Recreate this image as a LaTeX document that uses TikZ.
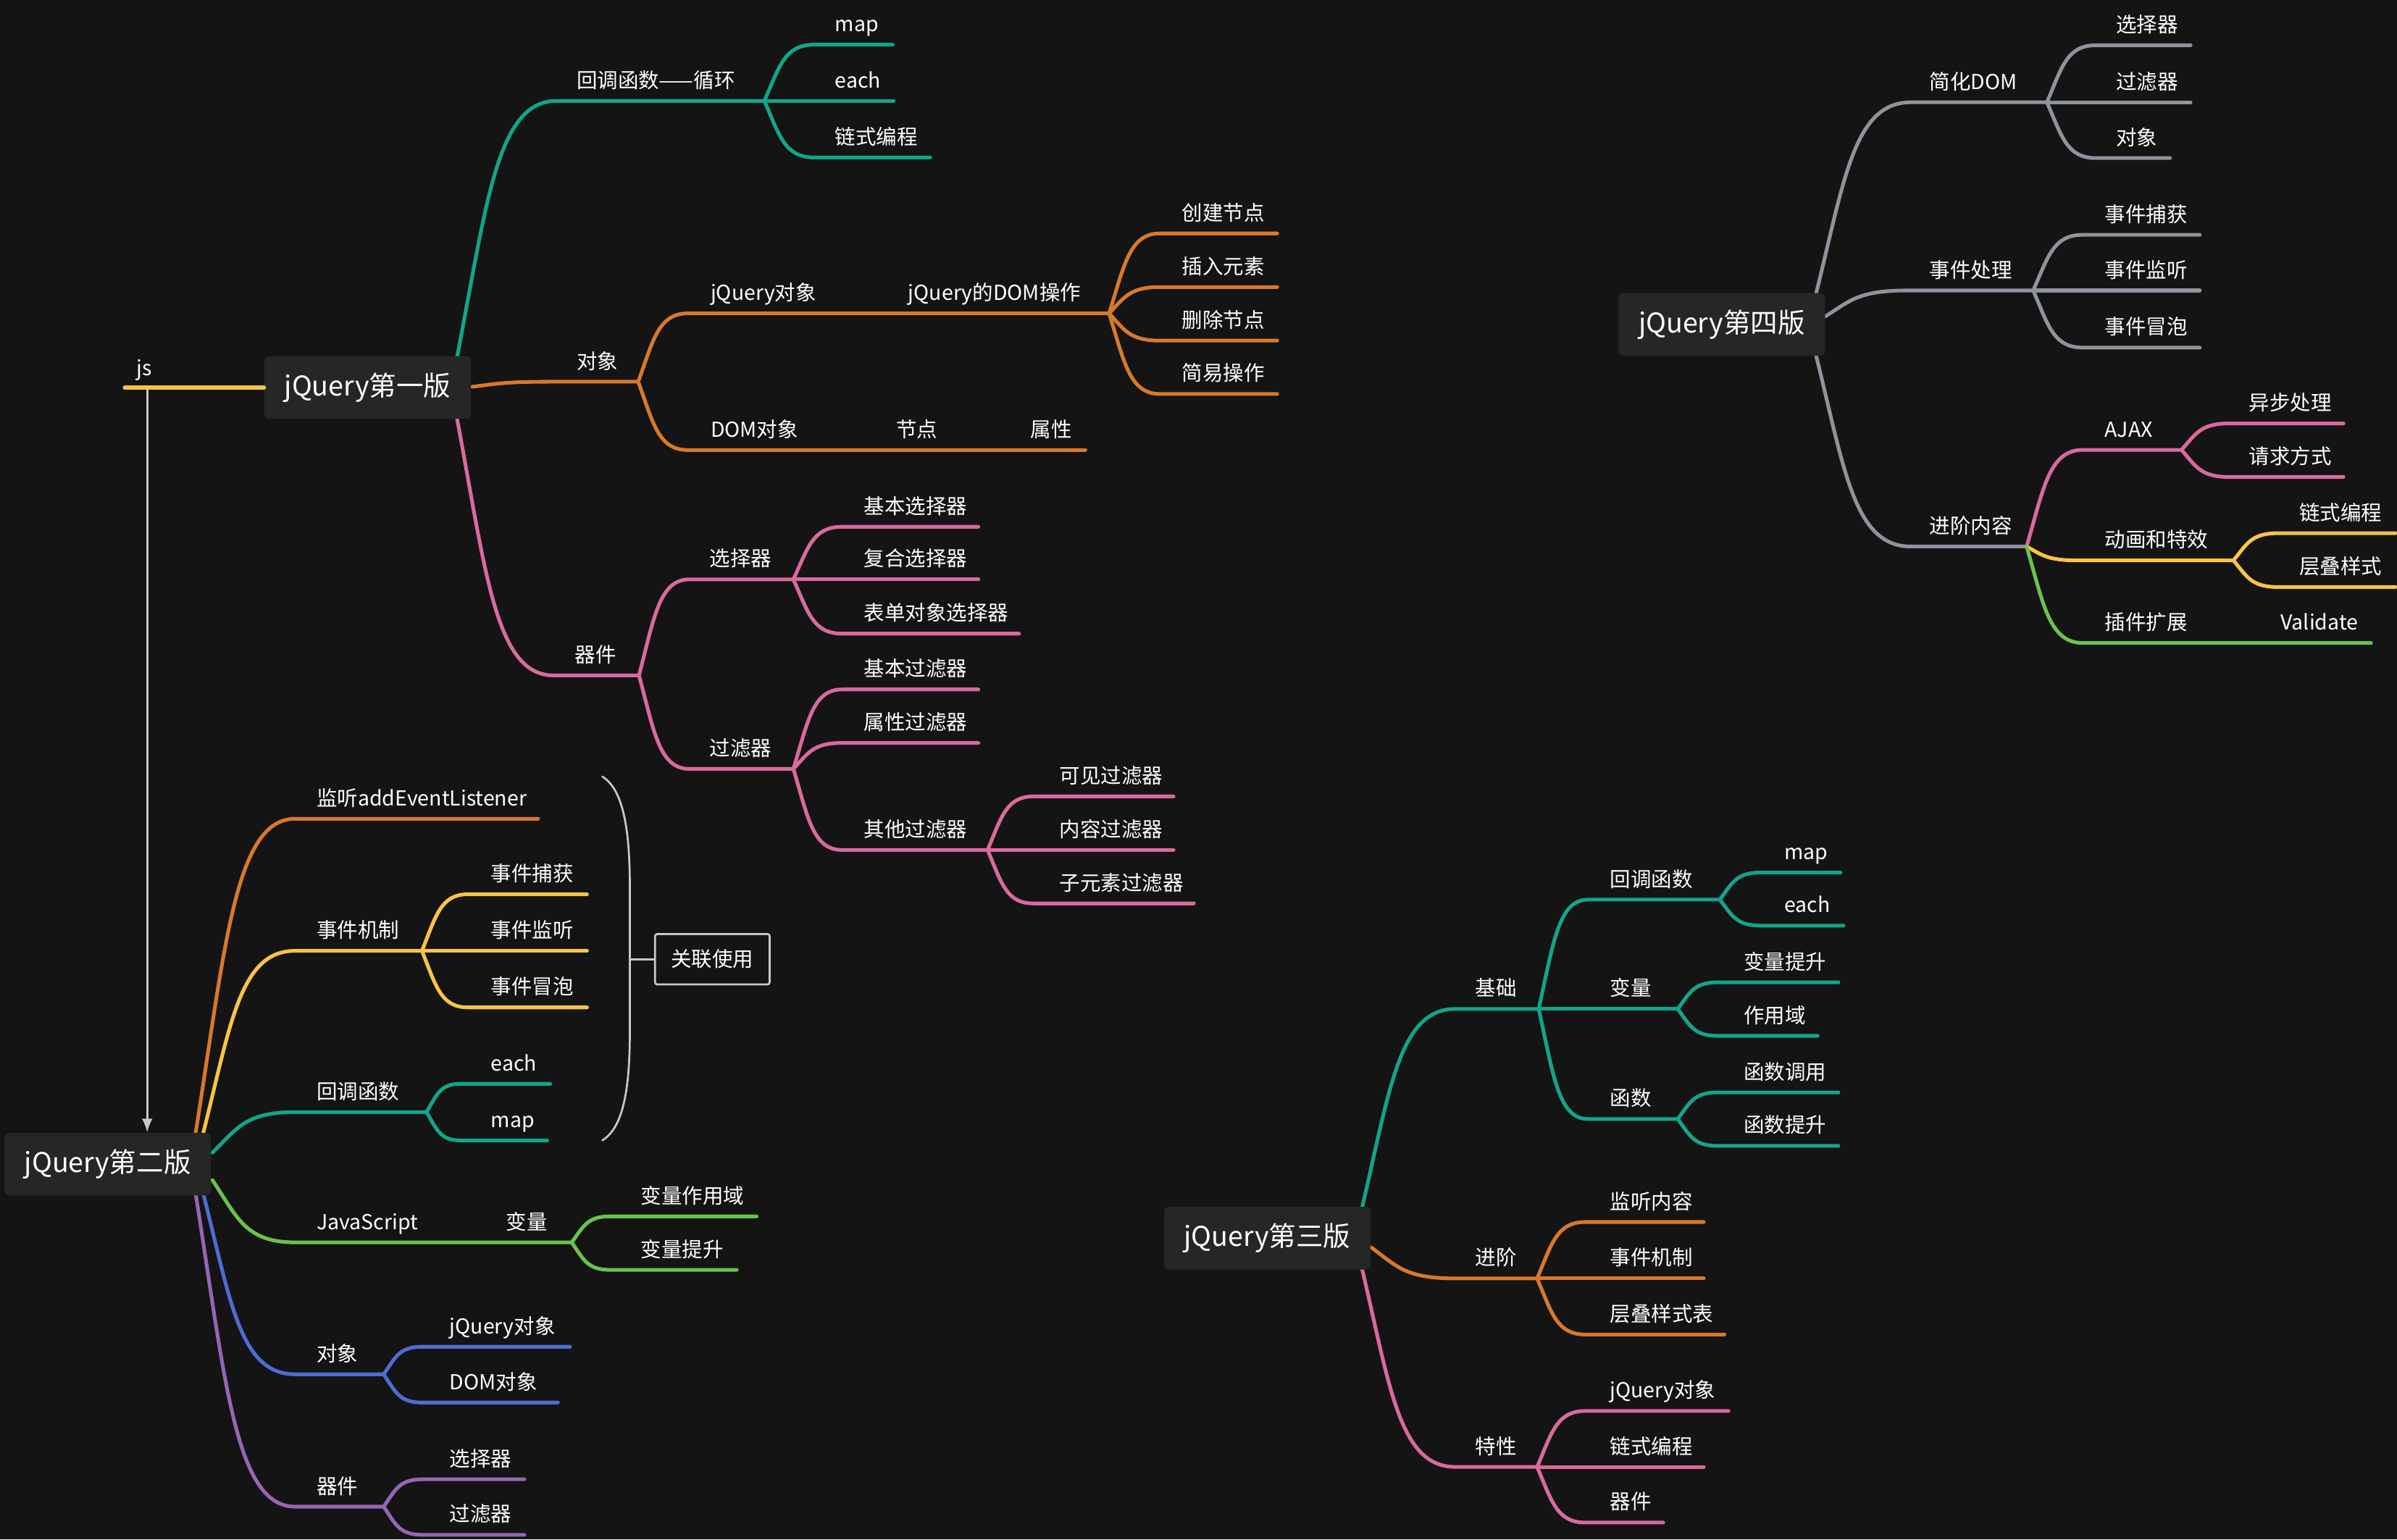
\documentclass[tikz,border=0pt]{standalone}
\usepackage{fontspec}
\newfontfamily\cjk{Noto Sans CJK SC}
\usetikzlibrary{calc,arrows.meta}
\definecolor{bg}{HTML}{141414}
\definecolor{cteal}{HTML}{12A58A}
\definecolor{corange}{HTML}{D8792A}
\definecolor{cpink}{HTML}{D96A9D}
\definecolor{cyellow}{HTML}{F8C445}
\definecolor{cgreen}{HTML}{6BC24B}
\definecolor{cblue}{HTML}{4E6CD2}
\definecolor{cpurple}{HTML}{9466B4}
\definecolor{cgray}{HTML}{8E949C}
\definecolor{clight}{HTML}{C8C8C8}
\definecolor{boxfill}{HTML}{262626}
\newcommand\mbr[6]{\coordinate (#3s) at (#4,#5);\coordinate (#3) at (#6,#5);\draw[ln,#1] (#2) to[mm] (#3s) -- (#3);}
\newcommand\mlb[4]{\node[lbl] (#1) at ({#2},{#3-8.5}) {#4};}
\begin{document}
\begin{tikzpicture}[x=1pt,y=-1pt,
  ln/.style={line width=2.4pt,line cap=round,line join=round},
  mm/.style={to path={let \p1=(\tikztostart),\p2=(\tikztotarget) in .. controls ({\x1+0.3*(\x2-\x1)},{\y1+0.6*(\y2-\y1)}) and ({\x1+0.4*(\x2-\x1)},{\y2}) .. (\tikztotarget)}},
  lbl/.style={anchor=base west,inner sep=0pt,text=white,font=\cjk\fontsize{13.5}{16}\selectfont},
  rootbox/.style={fill=boxfill,rounded corners=3pt,text=white,font=\cjk\fontsize{17.8}{22}\selectfont,minimum width=135pt,minimum height=41pt,inner sep=0pt}]
\fill[bg] (0,0) rectangle (1568,1007);
\useasboundingbox (0,0) rectangle (1568,1007);

% root anchor coordinates
\coordinate (r1a) at (299,233.5);
\coordinate (r1b) at (309,253);
\coordinate (r1c) at (299,274);
\coordinate (r2a) at (128,741);
\coordinate (r2b) at (133,741);
\coordinate (r2c) at (139,754);
\coordinate (r2d) at (139,772);
\coordinate (r2e) at (133,781);
\coordinate (r2f) at (128,781);
\coordinate (r3a) at (891,790);
\coordinate (r3b) at (897,816);
\coordinate (r3c) at (891,830);
\coordinate (r4a) at (1188,192);
\coordinate (r4b) at (1194,207);
\coordinate (r4c) at (1188,232.6);

% ===== Root 1 =====
\mbr{cteal}{r1a}{c1}{364}{66}{500}
\mbr{cteal}{c1}{c1a}{532.6}{29.2}{584}
\mbr{cteal}{c1}{c1b}{532.6}{66}{584.6}
\mbr{cteal}{c1}{c1c}{532.6}{103}{608.5}
\mbr{corange}{r1b}{o1}{362}{249.7}{417.5}
\mbr{corange}{o1}{o1a}{450}{205}{725.5}
\mbr{corange}{o1a}{o1aa}{758.7}{152.7}{835.5}
\mbr{corange}{o1a}{o1ab}{758.7}{187.8}{835.5}
\mbr{corange}{o1a}{o1ac}{758.7}{222.8}{835.5}
\mbr{corange}{o1a}{o1ad}{758.7}{257.7}{835.5}
\mbr{corange}{o1}{o1b}{450}{294.4}{710}
\mbr{cpink}{r1c}{p1}{362}{441.8}{418}
\mbr{cpink}{p1}{p1a}{451}{379}{519}
\mbr{cpink}{p1a}{p1aa}{550.8}{344.6}{640}
\mbr{cpink}{p1a}{p1ab}{550.8}{379}{640}
\mbr{cpink}{p1a}{p1ac}{550.8}{414.5}{666.6}
\mbr{cpink}{p1}{p1b}{451}{503}{519}
\mbr{cpink}{p1b}{p1ba}{550.8}{451}{640}
\mbr{cpink}{p1b}{p1bb}{550.8}{486}{640}
\mbr{cpink}{p1b}{p1bc}{550.8}{556}{646}
\mbr{cpink}{p1bc}{p1bca}{676}{521}{767.7}
\mbr{cpink}{p1bc}{p1bcb}{676}{556}{767.7}
\mbr{cpink}{p1bc}{p1bcc}{676}{591}{781}

% ===== Root 2 =====
\mbr{corange}{r2a}{e1}{193}{535.6}{352}
\mbr{cyellow}{r2b}{e2}{193}{622}{276}
\mbr{cyellow}{e2}{e2a}{306}{585}{384}
\mbr{cyellow}{e2}{e2b}{306}{622}{384}
\mbr{cyellow}{e2}{e2c}{306}{659}{384}
\mbr{cteal}{r2c}{e3}{193}{727.5}{279}
\mbr{cteal}{e3}{e3a}{301}{709}{360}
\mbr{cteal}{e3}{e3b}{301}{746}{358}
\mbr{cgreen}{r2d}{e4}{193}{812.7}{374}
\mbr{cgreen}{e4}{e4a}{399}{795.7}{495}
\mbr{cgreen}{e4}{e4b}{399}{830.7}{482}
\mbr{cblue}{r2e}{e5}{193}{899}{251}
\mbr{cblue}{e5}{e5a}{276}{881}{373}
\mbr{cblue}{e5}{e5b}{276}{917.5}{365}
\mbr{cpurple}{r2f}{e6}{193}{985.6}{251}
\mbr{cpurple}{e6}{e6a}{276}{967.7}{343}
\mbr{cpurple}{e6}{e6b}{276}{1004}{343}

% ===== Root 3 =====
\mbr{cteal}{r3a}{f1}{952}{660}{1006.5}
\mbr{cteal}{f1}{f1a}{1038.7}{588.5}{1125}
\mbr{cteal}{f1a}{f1aa}{1151.5}{570.8}{1204}
\mbr{cteal}{f1a}{f1ab}{1151.5}{605.5}{1206}
\mbr{cteal}{f1}{f1b}{1038.7}{660}{1097.5}
\mbr{cteal}{f1b}{f1ba}{1123.5}{642.6}{1202.6}
\mbr{cteal}{f1b}{f1bb}{1123.5}{677.6}{1189}
\mbr{cteal}{f1}{f1c}{1038.7}{732}{1097.5}
\mbr{cteal}{f1c}{f1ca}{1123.5}{714.6}{1202.6}
\mbr{cteal}{f1c}{f1cb}{1123.5}{749.6}{1202.6}
\mbr{corange}{r3b}{f2}{952}{836.3}{1005.5}
\mbr{corange}{f2}{f2a}{1037}{799.4}{1114.5}
\mbr{corange}{f2}{f2b}{1037}{836.3}{1114.5}
\mbr{corange}{f2}{f2c}{1037}{873}{1128}
\mbr{cpink}{r3c}{f3}{952}{959.6}{1005.5}
\mbr{cpink}{f3}{f3a}{1037}{923}{1130.7}
\mbr{cpink}{f3}{f3b}{1037}{959.6}{1114.5}
\mbr{cpink}{f3}{f3c}{1037}{996}{1088}

% ===== Root 4 =====
\mbr{cgray}{r4a}{g1}{1250}{66.9}{1339}
\mbr{cgray}{g1}{g1a}{1371}{29.6}{1433}
\mbr{cgray}{g1}{g1b}{1371}{66.9}{1433}
\mbr{cgray}{g1}{g1c}{1371}{103.4}{1419.5}
\mbr{cgray}{r4b}{g2}{1248}{190}{1330}
\mbr{cgray}{g2}{g2a}{1362.5}{153.6}{1439}
\mbr{cgray}{g2}{g2b}{1362.5}{190}{1439}
\mbr{cgray}{g2}{g2c}{1362.5}{227.4}{1439}
\mbr{cgray}{r4c}{g3}{1250}{357.5}{1325.7}
\mbr{cpink}{g3}{g3a}{1362.5}{294.3}{1427}
\mbr{cpink}{g3a}{g3aa}{1458}{277}{1533}
\mbr{cpink}{g3a}{g3ab}{1458}{312}{1533}
\mbr{cyellow}{g3}{g3b}{1359}{366.6}{1461}
\mbr{cyellow}{g3b}{g3ba}{1490}{348.8}{1567}
\mbr{cyellow}{g3b}{g3bb}{1490}{384}{1567}
\mbr{cgreen}{g3}{g3c}{1362.5}{420.6}{1551}

% ===== root boxes =====
\node[rootbox] (r1) at (240.5,253.5) {jQuery第一版};
\node[rootbox] (r2) at (70.5,761.5) {jQuery第二版};
\node[rootbox] (r3) at (829,810) {jQuery第三版};
\node[rootbox] (r4) at (1126.3,212.2) {jQuery第四版};

% js and arrow
\coordinate (js) at (81.5,253.5);
\coordinate (jsd) at (96.3,253.5);
\draw[clight,line width=1.3pt,-{Latex[length=9pt,width=7pt]}] (jsd) -- (jsd |- r2.north);
\draw[ln,cyellow] (js) -- (r1.west);
\mlb{tjs}{89}{254}{js}

% brace and relation box
\coordinate (bt) at (394,508);
\coordinate (bb) at (394,746);
\coordinate (bm) at (412,627.5);
\draw[clight,line width=1.3pt,line cap=round] (bt) .. controls (407,516) and (412,540) .. (412,580) -- (412,675) .. controls (412,715) and (407,738) .. (bb);
\node[draw=clight,line width=1.3pt,rounded corners=1.5pt,minimum width=75pt,minimum height=33pt,inner sep=0pt,text=white,font=\cjk\fontsize{13.5}{16}\selectfont] (rel) at (466,627.5) {关联使用};
\draw[clight,line width=1.3pt] (bm) -- (rel.west);

% ===== labels root 1 =====
\mlb{tc1}{377}{66}{回调函数——循环}
\mlb{tc1a}{546}{29.2}{map}
\mlb{tc1b}{546}{66}{each}
\mlb{tc1c}{546}{103}{链式编程}
\mlb{to1}{377}{249.7}{对象}
\mlb{to1a}{464.7}{205}{jQuery对象}
\mlb{to1a2}{594}{205}{jQuery的DOM操作}
\mlb{to1aa}{773}{152.7}{创建节点}
\mlb{to1ab}{773}{187.8}{插入元素}
\mlb{to1ac}{773}{222.8}{删除节点}
\mlb{to1ad}{773}{257.7}{简易操作}
\mlb{to1b}{464.7}{294.4}{DOM对象}
\mlb{to1b2}{586}{294.4}{节点}
\mlb{to1b3}{674}{294.4}{属性}
\mlb{tp1}{376}{441.8}{器件}
\mlb{tp1a}{464}{379}{选择器}
\mlb{tp1aa}{565}{344.6}{基本选择器}
\mlb{tp1ab}{565}{379}{复合选择器}
\mlb{tp1ac}{565}{414.5}{表单对象选择器}
\mlb{tp1b}{464}{503}{过滤器}
\mlb{tp1ba}{565}{451}{基本过滤器}
\mlb{tp1bb}{565}{486}{属性过滤器}
\mlb{tp1bc}{565}{556}{其他过滤器}
\mlb{tp1bca}{693}{521}{可见过滤器}
\mlb{tp1bcb}{693}{556}{内容过滤器}
\mlb{tp1bcc}{693}{591}{子元素过滤器}

% ===== labels root 2 =====
\mlb{te1}{207}{535.6}{监听addEventListener}
\mlb{te2}{207}{622}{事件机制}
\mlb{te2a}{321}{585}{事件捕获}
\mlb{te2b}{321}{622}{事件监听}
\mlb{te2c}{321}{659}{事件冒泡}
\mlb{te3}{207}{727.5}{回调函数}
\mlb{te3a}{321}{709}{each}
\mlb{te3b}{321}{746}{map}
\mlb{te4}{207}{812.7}{JavaScript}
\mlb{te4x}{331}{812.7}{变量}
\mlb{te4a}{419}{795.7}{变量作用域}
\mlb{te4b}{419}{830.7}{变量提升}
\mlb{te5}{207}{899}{对象}
\mlb{te5a}{294}{881}{jQuery对象}
\mlb{te5b}{294}{917.5}{DOM对象}
\mlb{te6}{207}{985.6}{器件}
\mlb{te6a}{294}{967.7}{选择器}
\mlb{te6b}{294}{1004}{过滤器}

% ===== labels root 3 =====
\mlb{tf1}{965}{660}{基础}
\mlb{tf1a}{1053}{588.5}{回调函数}
\mlb{tf1aa}{1167}{570.8}{map}
\mlb{tf1ab}{1167}{605.5}{each}
\mlb{tf1b}{1053}{660}{变量}
\mlb{tf1ba}{1140.6}{642.6}{变量提升}
\mlb{tf1bb}{1140.6}{677.6}{作用域}
\mlb{tf1c}{1053}{732}{函数}
\mlb{tf1ca}{1140.6}{714.6}{函数调用}
\mlb{tf1cb}{1140.6}{749.6}{函数提升}
\mlb{tf2}{965}{836.3}{进阶}
\mlb{tf2a}{1053}{799.4}{监听内容}
\mlb{tf2b}{1053}{836.3}{事件机制}
\mlb{tf2c}{1053}{873}{层叠样式表}
\mlb{tf3}{965}{959.6}{特性}
\mlb{tf3a}{1053}{923}{jQuery对象}
\mlb{tf3b}{1053}{959.6}{链式编程}
\mlb{tf3c}{1053}{996}{器件}

% ===== labels root 4 =====
\mlb{tg1}{1262}{66.9}{简化DOM}
\mlb{tg1a}{1384}{29.6}{选择器}
\mlb{tg1b}{1384}{66.9}{过滤器}
\mlb{tg1c}{1384}{103.4}{对象}
\mlb{tg2}{1262}{190}{事件处理}
\mlb{tg2a}{1376.6}{153.6}{事件捕获}
\mlb{tg2b}{1376.6}{190}{事件监听}
\mlb{tg2c}{1376.6}{227.4}{事件冒泡}
\mlb{tg3}{1262}{357.5}{进阶内容}
\mlb{tg3a}{1376.6}{294.3}{AJAX}
\mlb{tg3aa}{1471}{277}{异步处理}
\mlb{tg3ab}{1471}{312}{请求方式}
\mlb{tg3b}{1376.6}{366.6}{动画和特效}
\mlb{tg3ba}{1504}{348.8}{链式编程}
\mlb{tg3bb}{1504}{384}{层叠样式}
\mlb{tg3c}{1376.6}{420.6}{插件扩展}
\mlb{tg3c2}{1491.6}{420.6}{Validate}
\end{tikzpicture}
\end{document}
